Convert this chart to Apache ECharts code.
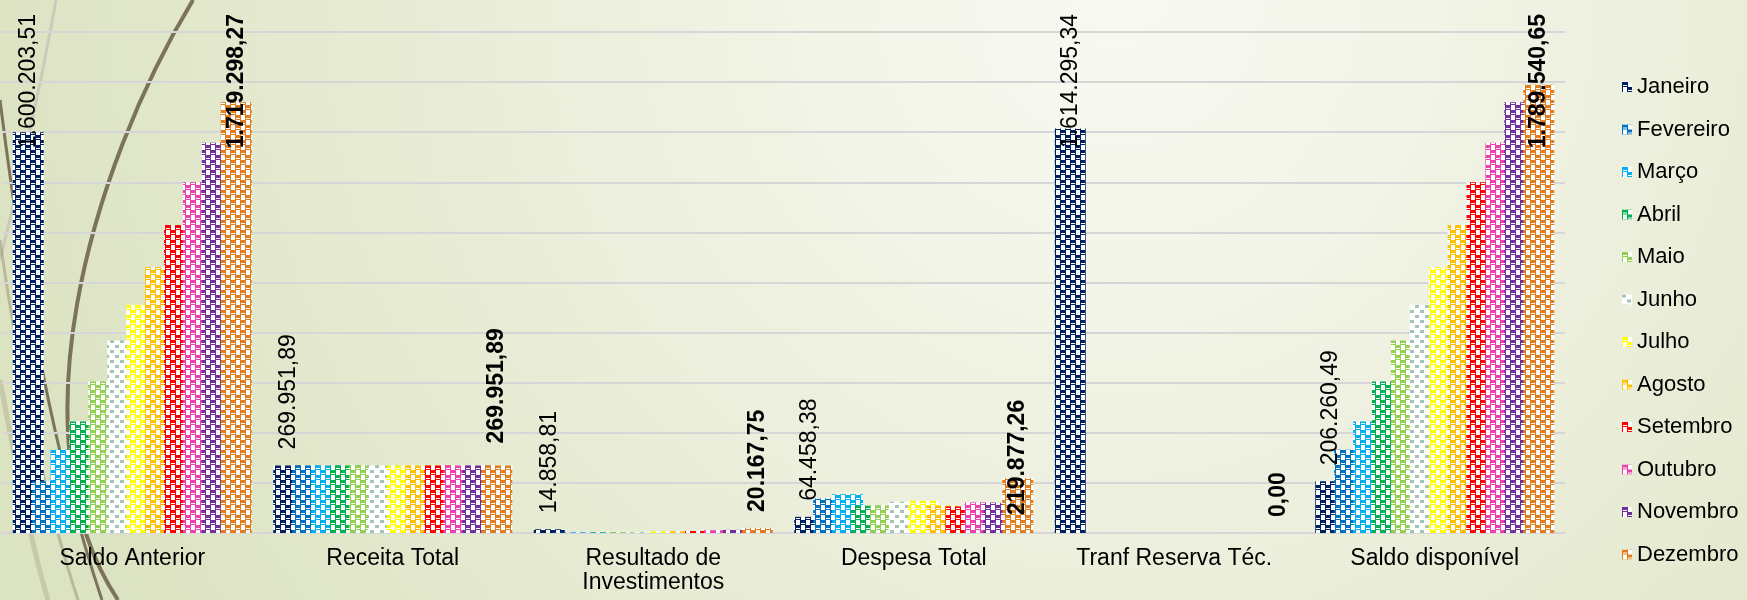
<!DOCTYPE html>
<html>
<head>
<meta charset="utf-8">
<script src="https://cdn.jsdelivr.net/npm/echarts@6/dist/echarts.min.js"></script>
<style>
  html, body { margin: 0; padding: 0; }
  #chart { width: 1747px; height: 600px; }
</style>
</head>
<body>
<div id="chart"></div>
<script>
// ---------- data ----------
const months = ['Janeiro', 'Fevereiro', 'Março', 'Abril', 'Maio', 'Junho', 'Julho', 'Agosto', 'Setembro', 'Outubro', 'Novembro', 'Dezembro'];
const categories = ['Saldo Anterior', 'Receita Total', 'Resultado de\nInvestimentos', 'Despesa Total', 'Tranf Reserva Téc.', 'Saldo disponível'];

const saldoAnterior   = [1600203.51, 206260.49, 332000, 445000, 605000, 768000, 911000, 1061000, 1230000, 1400000, 1558000, 1719298.27];
const receitaTotal    = [269951.89, 269951.89, 269951.89, 269951.89, 269951.89, 269951.89, 269951.89, 269951.89, 269951.89, 269951.89, 269951.89, 269951.89];
const resultadoInvest = [14858.81, 1500, 2000, 2500, 3000, 3500, 5500, 6500, 8000, 11000, 12500, 20167.75];
const despesaTotal    = [64458.38, 138000, 155000, 109000, 110000, 125000, 129000, 109000, 106000, 122000, 120000, 219877.26];
const tranfReserva    = [1614295.34, 0, 0, 0, 0, 0, 0, 0, 0, 0, 0, 0];
const saldoDisponivel = [206260.49, 332000, 445000, 605000, 768000, 911000, 1061000, 1230000, 1400000, 1558000, 1719298.27, 1789540.65];

const yTicks = { min: 0, max: 2000000, interval: 200000 };

// ---------- style ----------
const colors = ['#002060', '#0070C0', '#00B0F0', '#00B050', '#92D050', '#A2C4B8', '#FFFF00', '#FFC000', '#FF0000', '#EC40B0', '#7030A0', '#E17D1E'];
const labelledMonths = { 0: 'normal', 11: 'bold' };
const FONT = '"Liberation Sans", Arial, sans-serif';

function fmtBR(v) {
  const p = Number(v).toFixed(2).split('.');
  p[0] = p[0].replace(/\B(?=(\d{3})+(?!\d))/g, '.');
  return p[0] + ',' + p[1];
}

function makePattern(color, kind) {
  let mask;
  if (kind === 'dots') {
    mask = [
      '1111000000',
      '1111000000',
      '1111000000',
      '0000000000',
      '0000000000',
      '0000011110',
      '0000011110',
      '0000011110',
      '0000000000',
      '0000000000'
    ];
  } else {
    mask = [
      '1111110000',
      '1111110000',
      '1111110000',
      '1000010000',
      '1111110000',
      '1000011111',
      '1000011111',
      '1000011111',
      '1000010000',
      '1000011111'
    ];
  }
  const n = mask.length;
  const c = document.createElement('canvas');
  c.width = n; c.height = n;
  const ctx = c.getContext('2d');
  ctx.fillStyle = '#ffffff';
  ctx.fillRect(0, 0, n, n);
  ctx.fillStyle = color;
  for (let y = 0; y < n; y++) for (let x = 0; x < n; x++) if (mask[y][x] === '1') ctx.fillRect(x, y, 1, 1);
  return { image: c, repeat: 'repeat' };
}

const byCategory = [saldoAnterior, receitaTotal, resultadoInvest, despesaTotal, tranfReserva, saldoDisponivel];

// label placement tweaks (manual positions in the original)
const labelNudge = { '11-3': 53, '11-1': -6 };

const series = months.map((m, i) => {
  const weight = labelledMonths[i];
  return {
    name: m,
    type: 'bar',
    barWidth: 31,
    barGap: '-39%',
    itemStyle: { color: makePattern(colors[i], i === 5 ? 'dots' : 'sphere') },
    data: byCategory.map(arr => arr[i]),
    label: {
      show: weight !== undefined,
      position: 'top',
      rotate: 90,
      align: 'left',
      verticalAlign: 'middle',
      distance: 16,
      fontFamily: FONT,
      fontSize: 23,
      fontWeight: weight || 'normal',
      color: '#000',
      formatter: p => fmtBR(p.value)
    },
    labelLayout: function (params) {
      const r = params.labelRect;
      const key = i + '-' + params.dataIndex;
      if (r.y < 12) {
        return { y: 14 + r.height };
      }
      if (labelNudge[key] !== undefined) {
        return { y: r.y + r.height + labelNudge[key] };
      }
      return {};
    }
  };
});

// decorative theme curves
const curveDark = '#7B735A';
const graphicEls = [
  { type: 'bezierCurve', z: -1, silent: true,
    shape: { x1: 193, y1: 0, cpx1: 90, cpy1: 170, cpx2: 12, cpy2: 440, x2: 118, y2: 600 },
    style: { stroke: curveDark, lineWidth: 4, fill: null } },
  { type: 'bezierCurve', z: -1, silent: true,
    shape: { x1: 0, y1: 100, cpx1: 25, cpy1: 300, cpx2: 55, cpy2: 460, x2: 102, y2: 600 },
    style: { stroke: curveDark, lineWidth: 3, fill: null } },
  { type: 'bezierCurve', z: -1, silent: true,
    shape: { x1: 56, y1: 0, cpx1: 40, cpy1: 90, cpx2: 15, cpy2: 200, x2: 0, y2: 260 },
    style: { stroke: 'rgba(200,200,185,0.9)', lineWidth: 3, fill: null } },
  { type: 'bezierCurve', z: -1, silent: true,
    shape: { x1: 0, y1: 380, cpx1: 15, cpy1: 460, cpx2: 30, cpy2: 540, x2: 48, y2: 600 },
    style: { stroke: 'rgba(170,170,140,0.45)', lineWidth: 5, fill: null } },
  { type: 'bezierCurve', z: -1, silent: true,
    shape: { x1: 0, y1: 240, cpx1: 20, cpy1: 380, cpx2: 45, cpy2: 500, x2: 78, y2: 600 },
    style: { stroke: 'rgba(150,145,115,0.5)', lineWidth: 3, fill: null } }
];

const chart = echarts.init(document.getElementById('chart'), null, { renderer: 'canvas' });
chart.setOption({
  animation: false,
  backgroundColor: {
    type: 'radial', x: 0.64, y: 0.0, r: 1.9,
    colorStops: [
      { offset: 0, color: '#F8FAF3' },
      { offset: 0.45, color: '#EDF0DE' },
      { offset: 1, color: '#DCE3C2' }
    ]
  },
  graphic: { elements: graphicEls },
  textStyle: { fontFamily: FONT },
  legend: {
    orient: 'vertical',
    left: 1617,
    top: 69,
    itemWidth: 10,
    itemHeight: 10,
    itemGap: 16.5,
    icon: 'rect',
    textStyle: { fontFamily: FONT, fontSize: 22, lineHeight: 26, color: '#000' },
    data: months
  },
  grid: { left: 2, right: 182, top: 32, bottom: 67, containLabel: false },
  xAxis: {
    type: 'category',
    data: categories,
    axisTick: { show: false },
    axisLine: { lineStyle: { color: '#D6D6D6', width: 2 } },
    axisLabel: { fontFamily: FONT, fontSize: 23, lineHeight: 24, color: '#000', margin: 14, interval: 0 }
  },
  yAxis: {
    type: 'value',
    min: yTicks.min, max: yTicks.max, interval: yTicks.interval,
    axisLabel: { show: false },
    axisLine: { show: false },
    axisTick: { show: false },
    splitLine: { lineStyle: { color: '#D6D6D6', width: 2 } }
  },
  series: series
});
</script>
</body>
</html>
